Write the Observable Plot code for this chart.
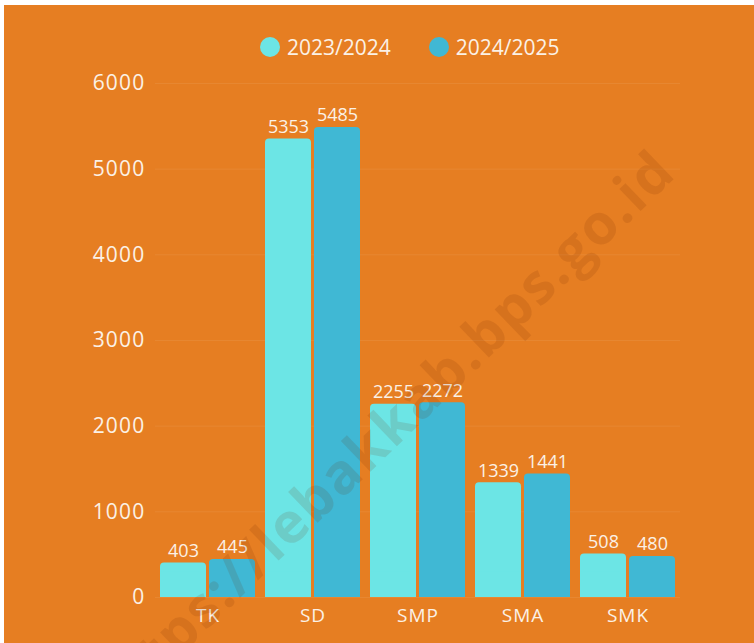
<!DOCTYPE html>
<html>
<head>
<meta charset="utf-8">
<script src="https://cdn.jsdelivr.net/npm/d3@7"></script>
<script src="https://cdn.jsdelivr.net/npm/@observablehq/plot@0.6"></script>
<style>
  html, body { margin: 0; padding: 0; background: #ffffff; }
  #wrap { position: absolute; left: 4px; top: 5px; width: 750px; height: 638px; background: #e67e22; overflow: hidden; font-family: "Open Sans", sans-serif; }
  #legend { position: absolute; left: 256px; top: 27px; display: flex; align-items: center; color: #fbf1e6; font-size: 21px; line-height: 30px; }
  .item { display: flex; align-items: center; margin-right: 38px; }
  .sw { width: 20px; height: 20px; border-radius: 50%; margin-right: 7px; }
  #chart { position: absolute; left: 0; top: 65px; }
  #wm { position: absolute; left: 376px; top: 427px; transform: translate(-50%, -50%) rotate(-44deg); white-space: nowrap; font-family: "Open Sans", sans-serif; font-weight: 700; font-size: 56px; letter-spacing: 2px; line-height: 1; color: rgba(110, 40, 0, 0.13); pointer-events: none; }
  g[aria-label="y-axis tick label"] text { letter-spacing: 1.2px; }
  g[aria-label="fx-axis tick label"] text { letter-spacing: 1px; }
</style>
</head>
<body>
<div id="wrap">
  <div id="legend"></div>
  <div id="chart"></div>
  <div id="wm">https://lebakkab.bps.go.id</div>
</div>
<script>
const categories = ["TK", "SD", "SMP", "SMA", "SMK"];
const series = ["2023/2024", "2024/2025"];
const values2023 = [403, 5353, 2255, 1339, 508];
const values2024 = [445, 5485, 2272, 1441, 480];
const yTicks = [0, 1000, 2000, 3000, 4000, 5000, 6000];
const colors = ["#6ce5e5", "#40b8d4"];

const data = categories.flatMap((c, i) => [
  {category: c, series: series[0], value: values2023[i]},
  {category: c, series: series[1], value: values2024[i]}
]);

const legend = document.getElementById("legend");
series.forEach((s, i) => {
  const item = document.createElement("div");
  item.className = "item";
  const sw = document.createElement("span");
  sw.className = "sw";
  sw.style.background = colors[i];
  const t = document.createElement("span");
  t.textContent = s;
  item.appendChild(sw);
  item.appendChild(t);
  legend.appendChild(item);
});

const chart = Plot.plot({
  width: 750,
  height: 573,
  marginLeft: 151,
  marginRight: 74,
  marginTop: 13,
  marginBottom: 46,
  style: {background: "transparent", color: "#fbf1e6", fontFamily: "Open Sans, sans-serif", overflow: "visible"},
  fx: {domain: categories, padding: 0, label: null, axis: null},
  x: {domain: series, paddingInner: 0.0612, paddingOuter: 0.102, axis: null},
  y: {domain: [0, 6000], label: null, axis: null},
  color: {domain: series, range: colors},
  marks: [
    Plot.gridY(yTicks, {stroke: "#ffffff", strokeOpacity: 0.07, strokeWidth: 1}),
    Plot.axisY(yTicks, {tickSize: 0, tickPadding: 10, fontSize: 21, label: null, fill: "#fbf1e6", tickFormat: d => String(d)}),
    Plot.axisFx({anchor: "bottom", tickSize: 0, tickPadding: 11, fontSize: 19, label: null, fill: "#fbf1e6"}),
    Plot.barY(data, {fx: "category", x: "series", y: "value", fill: "series", rx: 4}),
    Plot.barY(data, {fx: "category", x: "series", y1: 0, y2: d => Math.min(d.value, 300), fill: "series"}),
    Plot.text(data, {fx: "category", x: "series", y: "value", text: d => String(d.value), dy: -12, fill: "#fbf1e6", fontSize: 18})
  ]
});
document.getElementById("chart").appendChild(chart);
</script>
</body>
</html>
